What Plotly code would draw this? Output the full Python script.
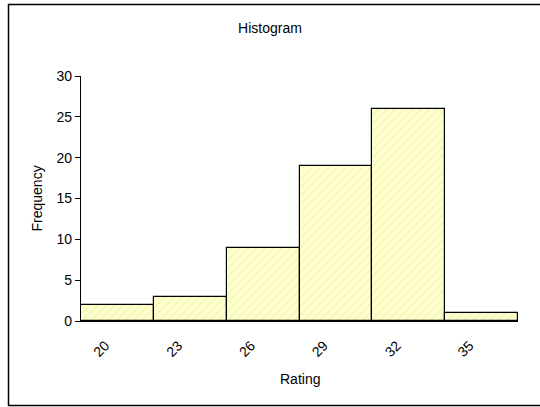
import plotly.graph_objects as go

categories = ["20", "23", "26", "29", "32", "35"]
frequency = [2, 3, 9, 19, 26, 1]
y_ticks = [0, 5, 10, 15, 20, 25, 30]

W, H = 540, 407
L, R, T, B = 81, 518, 76, 321
pw, ph = R - L, B - T

def px(x):
    return (x - L) / pw

def py(y):
    return (B - y) / ph

fig = go.Figure(go.Bar(
    x=categories, y=frequency,
    marker=dict(color="#ffffcc", line=dict(color="black", width=1.2),
                pattern=dict(shape="/", fgcolor="#eeeeb4", size=6, solidity=0.35)),
    width=1,
))

bx0, bx1, by0, by1 = px(8.5), px(600), py(405.5), py(4.5)
border_path = f"M {bx1},{by1} L {bx0},{by1} L {bx0},{by0} L {bx1},{by0}"

font = dict(family="Liberation Sans, Arial, sans-serif", size=14, color="black")
fig.update_layout(
    width=W, height=H,
    margin=dict(l=L, r=W - R, t=T, b=H - B),
    paper_bgcolor="white", plot_bgcolor="white",
    font=font, showlegend=False, bargap=0,
    title=dict(text="Histogram", x=0.5, xanchor="center", y=1 - 28 / H, yanchor="middle",
               font=dict(size=14)),
    xaxis=dict(showline=True, linecolor="black", linewidth=1.2, ticks="", tickangle=-45,
               showgrid=False, ticklabelstandoff=10, ticklabelshift=-12, automargin=False),
    yaxis=dict(range=[0, 30], tickvals=y_ticks, showline=True, linecolor="black", linewidth=1.2,
               ticks="outside", ticklen=5, tickcolor="black", showgrid=False, zeroline=False,
               automargin=False),
    shapes=[dict(type="path", xref="paper", yref="paper", path=border_path,
                 line=dict(color="black", width=1.5), layer="below")],
    annotations=[
        dict(text="Frequency", xref="paper", yref="paper", x=px(36), y=0.5, textangle=-90,
             showarrow=False, xanchor="center", yanchor="middle"),
        dict(text="Rating", xref="paper", yref="paper", x=0.5, y=py(379), showarrow=False,
             xanchor="center", yanchor="middle"),
    ],
)

fig.write_html("out.html", config={"displayModeBar": False},
               post_script="document.body.style.margin='0';document.body.style.overflow='hidden';")
